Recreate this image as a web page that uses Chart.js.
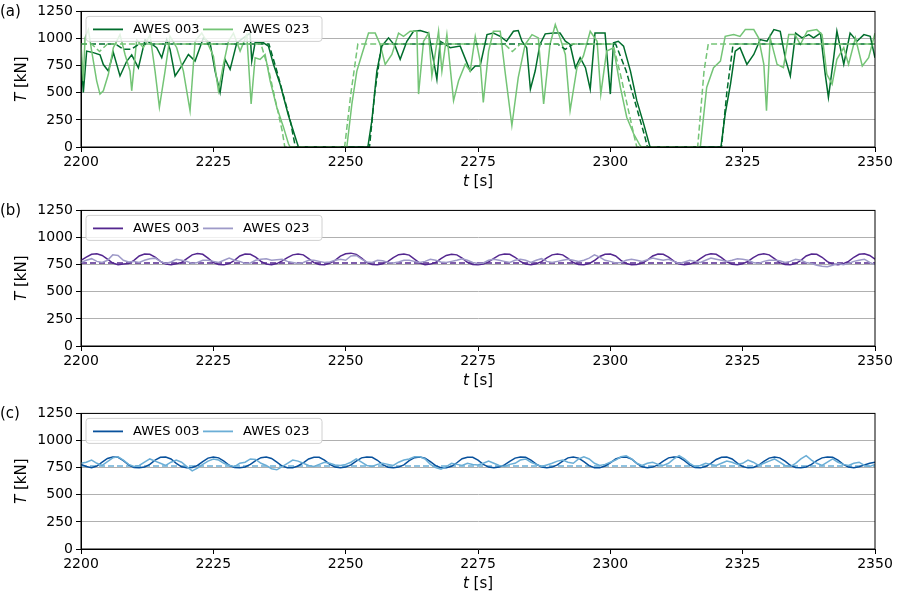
<!DOCTYPE html>
<html>
<head>
<meta charset="utf-8">
<script src="https://cdn.jsdelivr.net/npm/chart.js@4"></script>
<style>
  body { margin: 0; background: #fff; }
  canvas { position: absolute; left: 0; }
</style>
</head>
<body>
<canvas id="pa" width="900" height="199" style="top:0px"></canvas>
<canvas id="pb" width="900" height="199" style="top:199px"></canvas>
<canvas id="pc" width="900" height="199" style="top:402px"></canvas>
<script>
const T0 = 2200;
const xTicks = [2200, 2225, 2250, 2275, 2300, 2325, 2350];
const yTicks = [0, 250, 500, 750, 1000, 1250];

// panel (a): times are seconds after 2200
const tA003 = [0, 0.44, 1.07, 2.33, 3.59, 4.22, 5.17, 6.11, 7.37, 8.63, 9.58, 10.84, 12.1, 13.04, 14.3, 15.25, 16.19, 16.82, 17.77, 19.03, 20.29, 21.55, 23.12, 24.39, 25.33, 26.28, 27.22, 28.17, 29.43, 30.69, 31.95, 32.26, 32.89, 34.47, 35.41, 36.36, 37.62, 39.19, 40.77, 41.08, 54.19, 54.95, 55.89, 56.84, 58.1, 59.36, 60.3, 61.56, 62.82, 64.08, 65.66, 66.29, 67.23, 67.86, 69.75, 71.64, 73.53, 74.48, 75.4, 76.7, 77.9, 79.2, 80.4, 81.7, 82.6, 83.3, 84.2, 84.9, 85.8, 86.7, 87.7, 89.3, 90.5, 91.5, 92.4, 93.4, 94.3, 95.3, 96.2, 97.1, 99, 100, 100.6, 101.5, 102.5, 103.8, 105, 106.3, 107.5, 120.9, 121.7, 122.7, 123.6, 124.5, 125.8, 127.1, 128.3, 129.6, 130.9, 132.1, 133.1, 134, 135, 136.2, 137.5, 138.4, 139.7, 140.6, 141.2, 142.2, 142.8, 144.1, 145.3, 146.6, 147.9, 149.1, 150];
const vA003 = [823, 503, 884, 870, 850, 760, 700, 870, 655, 790, 850, 730, 990, 960, 915, 823, 990, 900, 655, 747, 853, 792, 1006, 960, 700, 503, 808, 716, 960, 1006, 1050, 792, 960, 960, 930, 762, 579, 290, 46, 0, 0, 244, 700, 930, 1006, 930, 808, 975, 1067, 1073, 1050, 884, 625, 975, 915, 930, 700, 747, 747, 1036, 1050, 1020, 975, 1067, 1073, 975, 915, 533, 700, 945, 1043, 1050, 1050, 975, 945, 731, 823, 731, 533, 1050, 1050, 488, 960, 975, 930, 700, 427, 213, 0, 0, 305, 579, 884, 915, 762, 853, 990, 975, 1082, 1067, 808, 655, 1050, 1006, 1036, 1006, 1050, 670, 457, 823, 1067, 762, 1050, 975, 1036, 1020, 823];
const tA023 = [0, 0.44, 0.76, 1.39, 2.02, 2.96, 3.59, 4.22, 5.17, 6.11, 7.37, 8.32, 9.26, 9.58, 10.52, 11.78, 13.04, 13.99, 14.81, 15.88, 16.82, 18.08, 19.34, 20.6, 21.55, 22.81, 23.75, 25.02, 25.96, 26.91, 27.85, 28.8, 30.06, 31.32, 32.14, 32.89, 33.84, 34.78, 35.73, 36.99, 38.25, 39.19, 39.51, 50.22, 51.17, 52.11, 53.06, 54.32, 55.58, 56.52, 57.47, 58.73, 59.99, 60.93, 62.19, 63.45, 63.77, 64.71, 65.66, 66.29, 67.55, 68.18, 69.12, 70.38, 71.33, 72.59, 73.53, 74.48, 75.4, 76, 77, 77.9, 79.2, 80.1, 81.4, 82.6, 83.9, 85.2, 86.4, 87.4, 88.6, 89.6, 90.5, 91.5, 92.4, 93.7, 94.9, 96.2, 97.5, 98.2, 99.3, 100.6, 101.9, 103.1, 104.4, 105.6, 105.9, 117, 118.2, 119.5, 120.8, 121.7, 123.3, 124.5, 125.5, 127.1, 128, 129, 129.5, 130.2, 131.5, 132.7, 133.7, 134.9, 135.9, 137.2, 139, 140, 140.9, 141.9, 142.8, 144.1, 145, 146.3, 147.6, 148.8, 150];
const vA023 = [945, 610, 1006, 1082, 884, 610, 488, 518, 670, 915, 1036, 853, 700, 518, 990, 915, 1036, 700, 366, 700, 1020, 915, 700, 335, 975, 1050, 975, 838, 518, 762, 975, 1050, 884, 1036, 396, 823, 808, 853, 610, 366, 183, 30, 0, 0, 396, 700, 853, 1050, 1050, 945, 762, 853, 1050, 1020, 1067, 1067, 488, 975, 1050, 655, 1067, 700, 1036, 427, 610, 762, 700, 1020, 792, 411, 884, 1067, 1067, 700, 198, 640, 945, 1036, 1006, 396, 945, 1128, 1006, 853, 335, 731, 838, 1067, 975, 488, 884, 915, 549, 274, 122, 15, 0, 0, 549, 731, 792, 1020, 1036, 1020, 1082, 1082, 1006, 762, 335, 1006, 762, 731, 1036, 1036, 945, 1067, 1082, 1036, 670, 579, 808, 915, 762, 1006, 747, 823, 1050];
const tA003ref = [0, 6.5, 8, 9.5, 11, 35.5, 37, 39.5, 40.5, 54.5, 55.5, 56.8, 90, 91.5, 93, 101, 103, 106.5, 107, 121, 122, 123.2, 150];
const vA003ref = [950, 950, 900, 900, 950, 950, 700, 250, 0, 0, 500, 950, 950, 900, 950, 950, 700, 100, 0, 0, 500, 950, 950];
const tA023ref = [0, 2, 3.5, 5, 34, 35.5, 38, 38.5, 49.8, 51, 52.3, 80, 81.5, 83, 100.5, 102, 104.5, 105, 116.5, 117.7, 118.5, 150];
const vA023ref = [950, 950, 880, 950, 950, 700, 150, 0, 0, 500, 950, 950, 880, 950, 950, 650, 100, 0, 0, 700, 950, 950];

// panels (b) and (c): one value per second from 2200 to 2350
const vB003 = [790, 820, 845, 850, 835, 800, 765, 750, 755, 760, 790, 830, 848, 845, 820, 780, 755, 750, 758, 770,
  805, 840, 852, 845, 810, 770, 752, 748, 760, 790, 830, 848, 846, 820, 780, 755, 750, 760, 785, 815,
  840, 848, 840, 805, 768, 752, 750, 762, 790, 828, 850, 856, 845, 810, 770, 752, 748, 758, 780, 815,
  842, 848, 838, 800, 765, 750, 755, 770, 805, 835, 846, 840, 810, 772, 752, 748, 756, 775, 808, 838,
  848, 845, 818, 780, 755, 750, 758, 778, 812, 840, 848, 840, 808, 770, 752, 750, 760, 788, 825, 846,
  848, 830, 790, 760, 750, 752, 765, 792, 830, 848, 845, 820, 782, 756, 750, 755, 772, 805, 838, 850,
  845, 815, 775, 754, 750, 758, 780, 815, 842, 850, 840, 805, 768, 752, 750, 760, 790, 830, 848, 845,
  818, 778, 755, 750, 758, 780, 818, 845, 850, 835, 800];
const vB023 = [770, 790, 805, 780, 770, 790, 840, 835, 790, 775, 780, 770, 790, 805, 810, 780, 760, 775, 800, 790,
  780, 760, 770, 790, 790, 780, 770, 790, 810, 790, 780, 760, 765, 790, 800, 805, 790, 795, 800, 780,
  770, 760, 770, 790, 790, 780, 770, 775, 790, 800, 790, 830, 835, 800, 775, 770, 790, 785, 770, 765,
  775, 790, 790, 780, 770, 780, 800, 790, 775, 770, 780, 790, 805, 790, 770, 760, 765, 790, 800, 790,
  780, 770, 790, 800, 790, 770, 790, 805, 780, 770, 780, 790, 800, 790, 780, 790, 810, 840, 820, 790,
  780, 765, 770, 790, 800, 790, 780, 795, 810, 800, 790, 800, 780, 760, 775, 790, 780, 770, 790, 810,
  800, 790, 780, 790, 805, 800, 790, 770, 760, 780, 790, 790, 785, 770, 780, 800, 790, 770, 760, 745,
  735, 730, 745, 760, 750, 760, 780, 790, 800, 770, 750];
const vC003 = [780, 760, 750, 765, 800, 835, 848, 845, 815, 775, 752, 748, 755, 780, 820, 845, 848, 830, 790, 758,
  748, 752, 770, 805, 838, 848, 840, 810, 772, 752, 748, 756, 780, 815, 842, 848, 835, 800, 765, 750,
  750, 765, 795, 830, 846, 845, 820, 780, 755, 748, 755, 775, 810, 840, 848, 845, 818, 778, 754, 748,
  755, 775, 815, 842, 848, 838, 805, 768, 750, 750, 762, 795, 832, 846, 845, 820, 780, 755, 748, 755,
  775, 808, 838, 848, 845, 820, 782, 756, 748, 755, 775, 810, 840, 848, 838, 805, 768, 750, 750, 765,
  795, 830, 846, 848, 830, 790, 758, 748, 755, 775, 810, 840, 848, 845, 815, 775, 752, 748, 760, 790,
  825, 845, 848, 830, 792, 760, 748, 752, 772, 808, 838, 848, 840, 810, 772, 752, 748, 756, 780, 815,
  840, 848, 846, 820, 780, 755, 750, 758, 775, 790, 800];
const vC023 = [790, 800, 820, 790, 770, 805, 840, 850, 820, 780, 760, 770, 800, 830, 810, 790, 770, 800, 820, 800,
  760, 720, 745, 780, 810, 830, 820, 790, 770, 760, 790, 800, 830, 825, 790, 770, 740, 730, 760, 790,
  820, 810, 790, 770, 760, 780, 800, 790, 775, 770, 780, 800, 830, 800, 770, 760, 780, 790, 780, 770,
  800, 820, 830, 850, 850, 830, 780, 750, 735, 760, 790, 780, 770, 790, 780, 775, 790, 810, 790, 770,
  760, 780, 790, 820, 830, 800, 780, 760, 775, 790, 810, 820, 800, 790, 830, 850, 830, 790, 770, 780,
  800, 820, 850, 860, 830, 790, 770, 790, 800, 780, 770, 790, 830, 860, 830, 790, 760, 770, 790, 780,
  770, 790, 810, 800, 780, 790, 820, 800, 770, 790, 810, 830, 800, 770, 760, 790, 830, 860, 820, 790,
  770, 800, 830, 800, 780, 770, 790, 800, 770, 760, 780];
const refBC = 765;

function pairs(ts, vs) {
  return ts.map((t, i) => ({ x: T0 + t, y: vs[i] }));
}
function perSecond(vs) {
  return vs.map((v, i) => ({ x: T0 + i, y: v }));
}

const frame = {
  id: 'frame',
  afterDraw(chart, args, opts) {
    const c = chart.ctx, a = chart.chartArea;
    c.save();
    c.strokeStyle = '#000';
    c.lineWidth = 1;
    c.strokeRect(a.left, a.top, a.right - a.left, a.bottom - a.top);
    // legend
    c.fillStyle = 'rgba(255,255,255,0.8)';
    c.strokeStyle = '#d0d0d0';
    c.beginPath();
    c.roundRect(a.left + 5, a.top + 5, 236, 25, 3);
    c.fill(); c.stroke();
    c.font = '13px "DejaVu Sans"';
    c.textBaseline = 'middle';
    const ly = a.top + 18;
    [[opts.dark, 'AWES 003', a.left + 12], [opts.light, 'AWES 023', a.left + 122]].forEach(([col, txt, x]) => {
      c.strokeStyle = col; c.lineWidth = 1.8;
      c.beginPath(); c.moveTo(x, ly); c.lineTo(x + 30, ly); c.stroke();
      c.fillStyle = '#000'; c.fillText(txt, x + 40, ly);
    });
    // panel label
    c.font = '15px "DejaVu Sans"';
    c.textBaseline = 'middle';
    c.fillText(opts.label, 0, a.top + 1);
    // y title
    c.translate(22, (a.top + a.bottom) / 2);
    c.rotate(-Math.PI / 2);
    c.textAlign = 'left';
    c.font = 'italic 15px "DejaVu Sans"';
    const w1 = c.measureText('T').width;
    c.font = '15px "DejaVu Sans"';
    const w2 = c.measureText(' [kN]').width;
    c.font = 'italic 15px "DejaVu Sans"';
    c.fillText('T', -(w1 + w2) / 2, 0);
    c.font = '15px "DejaVu Sans"';
    c.fillText(' [kN]', -(w1 + w2) / 2 + w1, 0);
    c.restore();
    // x title
    c.save();
    c.fillStyle = '#000';
    c.textBaseline = 'middle';
    const cx = (a.left + a.right) / 2;
    c.font = 'italic 15px "DejaVu Sans"';
    const v1 = c.measureText('t').width;
    c.font = '15px "DejaVu Sans"';
    const v2 = c.measureText(' [s]').width;
    c.font = 'italic 15px "DejaVu Sans"';
    c.fillText('t', cx - (v1 + v2) / 2, a.bottom + 35);
    c.font = '15px "DejaVu Sans"';
    c.fillText(' [s]', cx - (v1 + v2) / 2 + v1, a.bottom + 35);
    c.restore();
  }
};

function line(data, color, dash) {
  return { data, borderColor: color, borderWidth: 1.5, borderDash: dash || [],
    pointRadius: 0, tension: 0, fill: false };
}

function makePanel(id, label, dark, light, datasets) {
  new Chart(document.getElementById(id).getContext('2d'), {
    type: 'line',
    data: { datasets },
    plugins: [frame],
    options: {
      responsive: false,
      animation: false,
      layout: { padding: { top: 11, right: 25, left: 0, bottom: 0 } },
      plugins: { legend: { display: false }, tooltip: { enabled: false }, frame: { label, dark, light } },
      scales: {
        x: {
          type: 'linear', min: 2200, max: 2350,
          afterBuildTicks: s => { s.ticks = xTicks.map(v => ({ value: v })); },
          afterFit: s => { s.height = 52; },
          ticks: { color: '#000', font: { size: 14, family: 'DejaVu Sans' }, maxRotation: 0, padding: 2,
            callback: v => String(v) },
          grid: { drawOnChartArea: false, tickLength: 5, tickColor: '#000' },
          border: { color: '#000' }
        },
        y: {
          min: 0, max: 1250,
          afterBuildTicks: s => { s.ticks = yTicks.map(v => ({ value: v })); },
          afterFit: s => { s.width = 81; },
          ticks: { color: '#000', font: { size: 14, family: 'DejaVu Sans' }, padding: 3,
            callback: v => String(v) },
          grid: { color: '#b0b0b0', tickLength: 5, tickColor: '#000' },
          border: { color: '#000' }
        }
      }
    }
  });
}

const gA = ['#006d2c', '#74c476'];
const gB = ['#54278f', '#9e9ac8'];
const gC = ['#08519c', '#6baed6'];

makePanel('pa', '(a)', gA[0], gA[1], [
  line(pairs(tA023ref, vA023ref), gA[1], [6, 3]),
  line(pairs(tA003ref, vA003ref), gA[0], [6, 3]),
  line(pairs(tA023, vA023), gA[1]),
  line(pairs(tA003, vA003), gA[0])
]);
makePanel('pb', '(b)', gB[0], gB[1], [
  line(perSecond(vB023), gB[1]),
  line(perSecond(vB003), gB[0]),
  line([{ x: 2200, y: refBC }, { x: 2350, y: refBC }], gB[0], [6, 3])
]);
makePanel('pc', '(c)', gC[0], gC[1], [
  line(perSecond(vC023), gC[1]),
  line(perSecond(vC003), gC[0]),
  line([{ x: 2200, y: refBC }, { x: 2350, y: refBC }], gC[1], [6, 3])
]);
</script>
</body>
</html>
